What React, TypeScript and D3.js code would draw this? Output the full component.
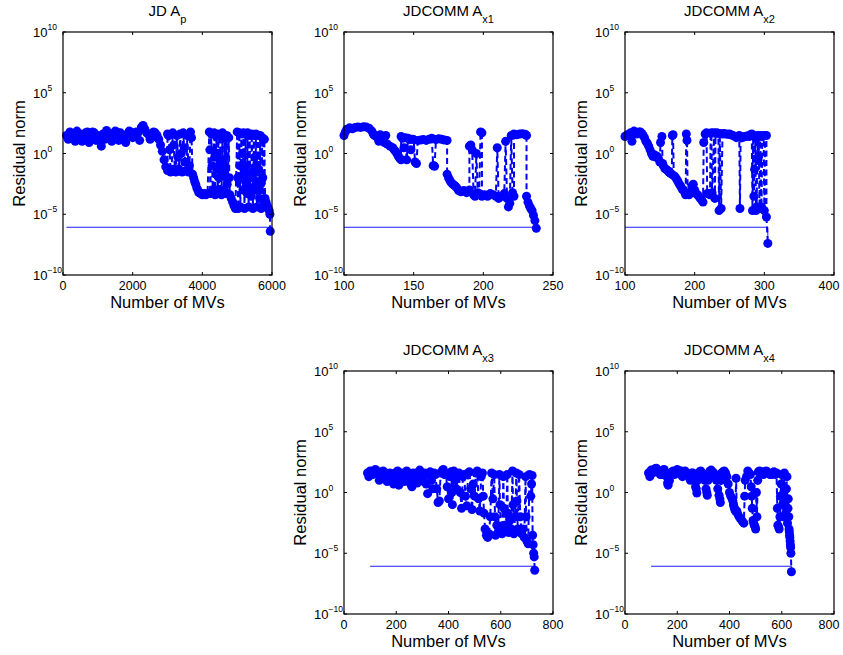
import React from 'react';
import * as d3 from 'd3';

// residual norm vs number of matrix-vector products, one array per matrix
const apData: [number, number][] = [
  [100, 30], [150, 15], [200, 60], [250, 40], [300, 20], [350, 10], [400, 70], [450, 30], [500, 40], [550, 10],
  [600, 15], [650, 50], [700, 60], [750, 8], [800, 25], [850, 60], [900, 50], [950, 12], [1000, 30], [1050, 20],
  [1100, 4], [1150, 40], [1200, 15], [1250, 80], [1300, 50], [1350, 30], [1400, 10], [1450, 20], [1500, 70], [1550, 60],
  [1600, 12], [1650, 50], [1700, 30], [1750, 15], [1800, 8], [1850, 40], [1900, 70], [1950, 60], [2000, 20], [2050, 25],
  [2100, 60], [2150, 50], [2200, 12], [2250, 150], [2300, 200], [2350, 100], [2400, 50], [2450, 40], [2500, 15], [2550, 20],
  [2600, 60], [2650, 50], [2700, 30], [2750, 15], [2800, 5], [2850, 1.5], [2900, 0.3], [2950, 0.08], [3000, 0.04],
  [3000, 40], [3030, 30], [3060, 2], [3090, 0.03], [3120, 0.05], [3150, 50], [3180, 5], [3210, 0.05], [3240, 0.03], [3270, 30],
  [3300, 0.5], [3330, 0.05], [3360, 40], [3390, 1], [3420, 0.03], [3450, 50], [3480, 3], [3510, 0.2], [3540, 0.04], [3570, 30],
  [3600, 0.03], [3630, 0.1], [3660, 60], [3690, 20], [3720, 0.02],
  [3750, 0.01], [3780, 0.005], [3810, 0.003], [3840, 0.0015], [3870, 0.001], [3900, 0.0006], [3950, 0.0005], [4000, 0.0004], [4050, 0.0005], [4100, 0.0004],
  [4150, 0.0005],
  [4200, 60], [4215, 2], [4230, 0.0005], [4260, 40], [4280, 0.1], [4300, 0.001], [4320, 0.0005], [4340, 50], [4355, 0.5], [4370, 0.0004],
  [4400, 30], [4415, 0.05], [4430, 1], [4445, 0.001], [4460, 40], [4475, 0.01], [4490, 0.0005], [4520, 30], [4535, 0.2], [4550, 0.0004],
  [4580, 50], [4595, 0.02], [4610, 0.3], [4625, 0.001], [4640, 20], [4655, 0.05], [4670, 0.0005], [4700, 30], [4715, 0.003], [4730, 0.0005],
  [4760, 20], [4775, 0.01], [4790, 0.0004],
  [4830, 0.0002], [4870, 0.0001], [4910, 0.00005], [4950, 0.00003],
  [5000, 60], [5015, 0.01], [5030, 0.00003], [5060, 50], [5075, 0.1], [5090, 0.00004], [5120, 40], [5135, 0.01], [5150, 1], [5165, 0.001],
  [5180, 50], [5195, 0.05], [5210, 0.00003], [5240, 40], [5255, 0.002], [5270, 0.1], [5285, 0.0005], [5300, 50], [5315, 0.01], [5330, 0.00004],
  [5360, 30], [5375, 0.001], [5390, 0.01], [5405, 0.0003], [5420, 40], [5435, 0.03], [5450, 0.00003], [5480, 30], [5495, 0.001], [5510, 0.5],
  [5525, 0.002], [5540, 40], [5555, 0.005], [5570, 0.00004], [5600, 30], [5615, 0.05], [5630, 0.001], [5645, 0.0002], [5660, 30], [5675, 0.003],
  [5690, 0.00003], [5720, 20], [5735, 0.01], [5750, 0.00005], [5780, 15],
  [5800, 0.0002], [5830, 0.0001], [5860, 0.00005], [5890, 0.00003], [5920, 0.00002], [5940, 0.00001], [5950, 4e-7],
];

const ax1Data: [number, number][] = [
  [100, 30], [101, 60], [102, 100], [104, 130], [106, 110], [108, 140], [110, 150], [112, 140], [114, 160], [116, 150],
  [118, 120], [120, 70], [121, 40], [122, 30], [124, 20], [125, 10], [126, 35], [128, 25], [129, 8], [130, 30],
  [131, 6], [133, 4], [135, 3], [136, 2], [137, 1.5], [138, 1], [139, 0.6], [140, 0.4], [141, 0.3],
  [141, 25], [142, 18], [143, 3], [144, 20], [145, 0.3], [146, 18], [147, 15], [148, 2], [149, 15], [150, 14],
  [151, 0.2], [152, 0.15], [153, 12], [155, 13], [157, 14], [159, 12], [161, 15], [163, 18], [164, 0.1], [165, 0.09],
  [166, 14], [168, 16], [170, 15], [172, 13], [174, 12],
  [174, 0.02], [175, 0.01], [176, 0.006], [177, 0.004], [178, 0.003], [179, 0.0025], [180, 0.002], [181, 0.0015], [182, 0.001], [183, 0.0008],
  [184, 0.0007], [186, 0.0009], [188, 0.0006], [190, 0.001],
  [190, 4], [191, 5], [192, 2], [193, 0.0004], [194, 0.0003], [195, 1], [196, 0.0006], [197, 0.0005], [198, 60], [199, 50],
  [199, 0.0003], [201, 0.0004], [203, 0.0003], [205, 0.0005], [207, 0.0004], [209, 0.0003], [210, 3], [211, 0.0002], [213, 0.0003], [215, 0.0005],
  [216, 10], [217, 0.0002], [218, 0.00004], [219, 0.00008], [220, 30], [221, 0.0006], [222, 0.0003], [222, 40], [224, 35], [226, 40],
  [228, 42], [230, 38], [231, 30],
  [231, 0.0003], [232, 0.0001], [233, 0.00005], [234, 0.00003], [235, 0.00002], [236, 0.000008], [237, 0.000003], [238, 7e-7],
];

const ax2Data: [number, number][] = [
  [100, 25], [102, 30], [104, 35], [106, 40], [108, 50], [110, 10], [111, 40], [113, 70], [115, 50], [117, 40],
  [120, 60], [122, 60], [124, 45], [126, 30], [128, 20], [130, 10], [132, 7], [134, 4], [136, 2], [138, 1],
  [140, 0.6], [142, 0.8], [144, 0.5], [146, 0.6], [148, 0.4], [150, 0.2], [151, 8], [153, 25], [154, 0.15], [155, 0.1],
  [157, 0.06], [159, 0.05], [161, 0.04], [163, 0.03], [165, 0.025], [167, 0.02], [168, 30], [169, 35], [170, 0.015], [172, 0.012],
  [174, 0.008], [176, 0.005], [178, 0.003], [180, 0.002], [182, 0.0012], [184, 0.001], [186, 0.0006], [187, 0.0004], [188, 40], [189, 12],
  [190, 0.0005], [192, 0.0004], [194, 0.0006], [196, 0.002], [198, 0.003], [200, 0.001], [202, 0.0005], [204, 0.0004], [206, 0.0003], [208, 0.0002],
  [210, 0.00015], [212, 0.0001], [213, 8], [215, 40], [217, 50], [218, 0.0005], [220, 0.0005], [222, 0.0004], [223, 45], [224, 50],
  [225, 0.0006], [228, 50], [229, 0.0002], [230, 45], [232, 50], [234, 45], [235, 0.00002], [236, 45], [238, 0.00003], [240, 40],
  [242, 45], [245, 40], [248, 38], [250, 40], [252, 35], [255, 30], [258, 25], [260, 20], [262, 25], [264, 30],
  [265, 0.00003], [266, 25], [268, 20], [270, 22], [272, 25], [275, 28], [278, 25], [280, 35], [282, 40], [283, 0.00002],
  [284, 30], [285, 0.0003], [286, 0.05], [287, 20], [288, 0.00002], [289, 0.00004], [290, 30], [291, 0.3], [292, 25], [293, 0.00003],
  [294, 30], [296, 0.00004], [297, 25], [299, 30], [300, 0.00002], [301, 30], [303, 30], [303, 0.000006], [305, 4e-8],
];

const ax3Data: [number, number][] = [
  [90, 40], [95, 20], [100, 60], [105, 30], [110, 30], [115, 60], [120, 80], [125, 40], [130, 50], [135, 10],
  [140, 20], [145, 50], [150, 60], [155, 20], [160, 40], [165, 8], [170, 10], [175, 40], [180, 30], [185, 15],
  [190, 5], [195, 40], [200, 20], [205, 60], [210, 4], [215, 15], [220, 40], [225, 20], [230, 8], [235, 30],
  [240, 60], [245, 30], [250, 15], [255, 5], [260, 3], [265, 40], [270, 30], [275, 15], [280, 6], [285, 50],
  [290, 70], [295, 30], [300, 20], [305, 8], [310, 40], [315, 5], [320, 0.8], [325, 30], [330, 50], [335, 10],
  [340, 2], [345, 40], [350, 30], [355, 2], [360, 0.15], [365, 0.2], [370, 40], [375, 60], [380, 80], [385, 30],
  [390, 30], [395, 3], [400, 0.3], [405, 20], [410, 50], [413, 1], [415, 0.1], [420, 60], [425, 10], [430, 2],
  [435, 30], [440, 40], [445, 1], [450, 0.05], [455, 20], [460, 30], [465, 0.5], [470, 0.08], [475, 40], [480, 50],
  [485, 2], [490, 0.04], [495, 5], [500, 0.5], [505, 40], [510, 60], [515, 0.3], [520, 0.03], [525, 20], [530, 40],
  [533, 0.5], [536, 0.02], [540, 0.001], [545, 0.0003], [550, 0.0002], [555, 0.0004], [560, 0.01], [565, 40], [570, 0.3], [575, 30],
  [578, 0.01], [580, 0.0003], [585, 0.002], [590, 0.0005], [595, 30], [597, 0.1], [600, 0.001], [605, 0.0004], [610, 20], [612, 0.05],
  [615, 0.002], [620, 0.0008], [625, 30], [627, 0.02], [630, 0.0005], [635, 0.005], [640, 0.001], [645, 60], [647, 0.1], [650, 0.0004],
  [655, 0.01], [660, 40], [662, 0.2], [665, 0.001], [670, 30], [675, 0.01], [680, 0.0004], [685, 0.001], [690, 0.0002], [695, 20],
  [697, 0.01], [700, 0.0001], [705, 0.00006], [710, 30], [715, 0.5], [718, 5], [720, 25], [722, 0.0003], [724, 0.00005], [726, 0.00001],
  [728, 0.000005], [730, 4e-7],
];

const ax4Data: [number, number][] = [
  [90, 40], [95, 20], [100, 70], [105, 40], [110, 50], [115, 90], [120, 100], [125, 50], [130, 60], [135, 30],
  [140, 30], [145, 70], [150, 80], [155, 40], [160, 20], [163, 6], [165, 4], [168, 8], [170, 10], [175, 40],
  [180, 50], [185, 60], [190, 30], [195, 50], [200, 80], [205, 40], [210, 40], [215, 60], [220, 20], [225, 50],
  [230, 60], [235, 40], [240, 30], [245, 20], [250, 10], [255, 40], [260, 40], [265, 10], [270, 3], [273, 2],
  [275, 0.9], [278, 10], [280, 20], [285, 50], [290, 60], [295, 40], [300, 30], [305, 10], [310, 2], [313, 1],
  [315, 0.6], [318, 10], [320, 30], [325, 60], [330, 70], [335, 50], [340, 40], [345, 20], [350, 10], [355, 2],
  [360, 0.6], [363, 0.3], [365, 0.15], [368, 10], [370, 40], [375, 50], [380, 60], [385, 40], [390, 20], [395, 5],
  [400, 1], [405, 0.5], [410, 0.3], [413, 0.2], [415, 0.1], [418, 0.06], [420, 0.04], [423, 0.03], [425, 15], [428, 0.03],
  [430, 0.02], [435, 0.012], [440, 0.008], [445, 0.006], [450, 0.004], [455, 0.003], [458, 0.5], [460, 10], [465, 20], [470, 60],
  [475, 40], [480, 30], [483, 3], [485, 0.5], [487, 0.05], [490, 0.005], [493, 0.003], [495, 0.002], [498, 0.0015], [500, 0.001],
  [503, 1], [505, 0.01], [508, 10], [510, 50], [515, 60], [520, 40], [525, 50], [530, 30], [535, 40], [540, 60],
  [545, 50], [550, 40], [555, 30], [560, 30], [565, 40], [570, 50], [575, 30], [580, 40], [583, 0.05], [585, 0.002],
  [588, 0.0015], [590, 0.001], [593, 0.01], [595, 0.5], [598, 5], [600, 30], [603, 0.1], [605, 0.01], [608, 1], [610, 40],
  [613, 0.2], [615, 0.02], [618, 2], [620, 20], [622, 0.003], [624, 0.05], [625, 0.3], [627, 0.01], [628, 0.001], [629, 0.0006],
  [630, 0.0003], [631, 0.0002], [632, 0.0001], [633, 0.00005], [634, 0.00003], [635, 0.00001], [637, 3e-7],
];

const tolerance = 8.5e-7;
const tolStart = 100;
const yTicks = [1e-10, 1e-5, 1, 1e5, 1e10];
const yTickExp = ['\u221210', '\u22125', '0', '5', '10'];

const panels = [
  { title: 'JD A', sub: 'p', data: apData, xDomain: [0, 6000], xTicks: [0, 2000, 4000, 6000] },
  { title: 'JDCOMM A', sub: 'x1', data: ax1Data, xDomain: [100, 250], xTicks: [100, 150, 200, 250] },
  { title: 'JDCOMM A', sub: 'x2', data: ax2Data, xDomain: [100, 400], xTicks: [100, 200, 300, 400] },
  { title: 'JDCOMM A', sub: 'x3', data: ax3Data, xDomain: [0, 800], xTicks: [0, 200, 400, 600, 800] },
  { title: 'JDCOMM A', sub: 'x4', data: ax4Data, xDomain: [0, 800], xTicks: [0, 200, 400, 600, 800] },
];

// where each panel's axes box sits
const layout = [
  { left: 63, top: 32 },
  { left: 344, top: 32 },
  { left: 625, top: 32 },
  { left: 344, top: 371 },
  { left: 625, top: 371 },
];

const W = 209;
const H = 243;
const font = 'Liberation Sans, Arial, Helvetica, sans-serif';
const blue = '#0000ff';

const Panel = ({ p, left, top }) => {
  const x = d3.scaleLinear().domain(p.xDomain).range([left, left + W]);
  const y = d3.scaleLog().domain([1e-10, 1e10]).range([top + H, top]);
  const line = d3.line<[number, number]>().x(d => x(d[0])).y(d => y(d[1]));
  const last = p.data[p.data.length - 1];
  const tolPts: [number, number][] = [[tolStart, tolerance], [last[0], tolerance], [last[0], last[1]]];
  const cx = left + W / 2;
  const cy = top + H / 2;

  return (
    <g>
      <text x={cx} y={top - 16} textAnchor="middle" fontSize={15} fontFamily={font} fill="#000">
        {p.title}
        <tspan fontSize={11} dy={6.5}>{p.sub}</tspan>
      </text>

      <path d={line(tolPts)} fill="none" stroke="#1f1fff" strokeWidth={1} />
      <path d={line(p.data)} fill="none" stroke={blue} strokeWidth={2} strokeDasharray="6,3.5" />
      {p.data.map((d, i) => (
        <circle key={i} cx={x(d[0])} cy={y(d[1])} r={4.5} fill={blue} />
      ))}

      <rect x={left} y={top} width={W} height={H} fill="none" stroke="#000" strokeWidth={1.2} />
      {p.xTicks.map(t => (
        <g key={'x' + t}>
          <line x1={x(t)} x2={x(t)} y1={top + H} y2={top + H - 3} stroke="#000" />
          <line x1={x(t)} x2={x(t)} y1={top} y2={top + 3} stroke="#000" />
          <text x={Math.min(x(t), 829)} y={top + H + 15} textAnchor="middle" fontSize={12.5} fontFamily={font}>{t}</text>
        </g>
      ))}
      {yTicks.map((t, i) => (
        <g key={'y' + i}>
          <line x1={left} x2={left + 3} y1={y(t)} y2={y(t)} stroke="#000" />
          <line x1={left + W} x2={left + W - 3} y1={y(t)} y2={y(t)} stroke="#000" />
          <text x={left - 30} y={y(t) + 5} fontSize={13} fontFamily={font}>
            10<tspan fontSize={8.5} dy={-7}>{yTickExp[i]}</tspan>
          </text>
        </g>
      ))}

      <text x={cx} y={top + H + 33} textAnchor="middle" fontSize={16.5} fontFamily={font}>Number of MVs</text>
      <text transform={`translate(${left - 38},${cy}) rotate(-90)`} textAnchor="middle" fontSize={16.5} fontFamily={font}>
        Residual norm
      </text>
    </g>
  );
};

export default function App() {
  return (
    <svg width={843} height={655} style={{ position: 'absolute', left: 0, top: 0, background: '#fff' }}>
      {panels.map((p, i) => (
        <Panel key={i} p={p} left={layout[i].left} top={layout[i].top} />
      ))}
    </svg>
  );
}
